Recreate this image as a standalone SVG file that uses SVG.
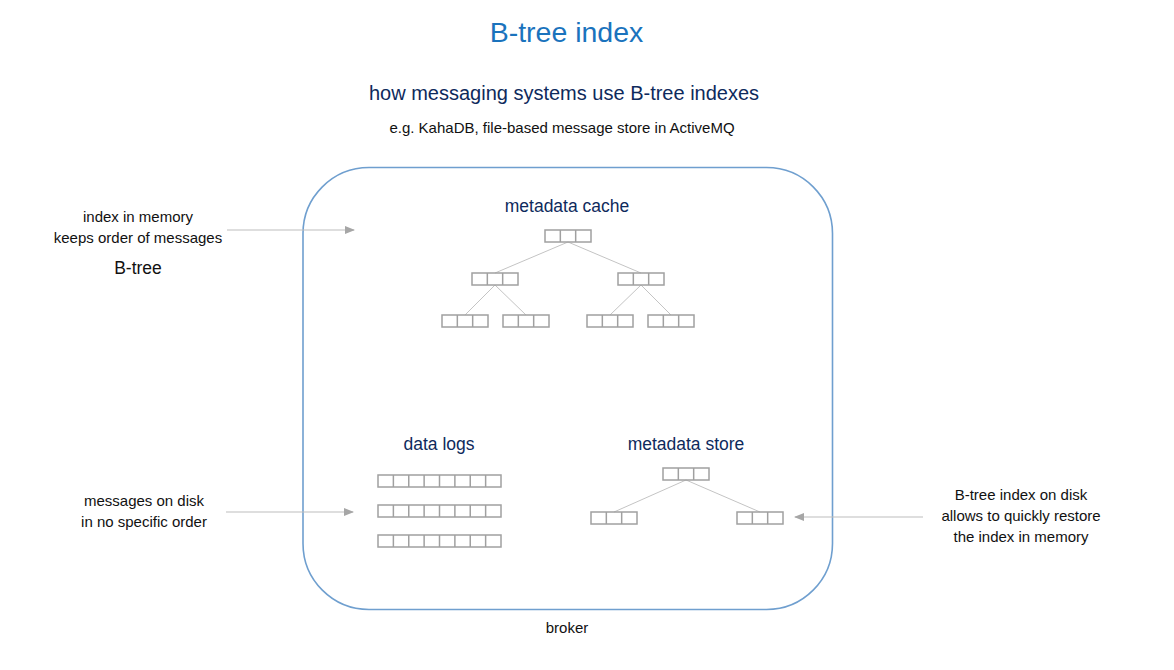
<svg xmlns="http://www.w3.org/2000/svg" width="1174" height="670" viewBox="0 0 1174 670">
<style>
text{font-family:"Liberation Sans",Arial,sans-serif;text-anchor:middle}
.title{font-size:28.5px;fill:#1a73bd}
.navy{fill:#0e2a5c}
.sub{font-size:20px}
.hd{font-size:17.5px}
.lbl{font-size:15px;fill:#111}
.cell{fill:none;stroke:#a0a0a0;stroke-width:1.5}
.edge{stroke:#c4c4c4;stroke-width:1;fill:none}
.arr{stroke:#bdbdbd;stroke-width:1.2;fill:none;marker-end:url(#ah)}
</style>
<defs>
<marker id="ah" markerWidth="10" markerHeight="8" refX="9" refY="4" orient="auto" markerUnits="userSpaceOnUse">
<path d="M0,0 L10,4 L0,8 Z" fill="#a6a6a6"/>
</marker>
<g id="n3" class="cell">
<rect x="0" y="0" width="46" height="12"/>
<line x1="15.33" y1="0" x2="15.33" y2="12"/>
<line x1="30.67" y1="0" x2="30.67" y2="12"/>
</g>
<g id="n8" class="cell">
<rect x="0" y="0" width="123" height="12"/>
<line x1="15.375" y1="0" x2="15.375" y2="12"/>
<line x1="30.75" y1="0" x2="30.75" y2="12"/>
<line x1="46.125" y1="0" x2="46.125" y2="12"/>
<line x1="61.5" y1="0" x2="61.5" y2="12"/>
<line x1="76.875" y1="0" x2="76.875" y2="12"/>
<line x1="92.25" y1="0" x2="92.25" y2="12"/>
<line x1="107.625" y1="0" x2="107.625" y2="12"/>
</g>
</defs>
<rect width="1174" height="670" fill="#fff"/>

<g id="header">
<text class="title" x="566.5" y="42">B-tree index</text>
<text class="navy sub" x="564" y="100">how messaging systems use B-tree indexes</text>
<text class="lbl" x="562" y="133">e.g. KahaDB, file-based message store in ActiveMQ</text>
</g>

<g id="broker">
<rect x="303" y="167.5" width="529.5" height="442" rx="66" ry="66" fill="none" stroke="#6f9fcf" stroke-width="1.6"/>
<text class="lbl" x="567" y="633">broker</text>
</g>

<g id="connectors">
<path class="edge" d="M568,242 L495,273 M568,242 L641,273 M495,285 L465,315 M495,285 L526,315 M641,285 L610,315 M641,285 L671,315"/>
<path class="edge" d="M686,480 L614,512 M686,480 L760,512"/>
<line class="arr" x1="227" y1="230" x2="354" y2="230"/>
<line class="arr" x1="226" y1="512" x2="353" y2="512"/>
<line class="arr" x1="923" y1="517" x2="795" y2="517"/>
</g>

<g id="metadata-cache">
<text class="navy hd" x="567" y="212">metadata cache</text>
<use href="#n3" x="545" y="230"/>
<use href="#n3" x="472" y="273"/>
<use href="#n3" x="618" y="273"/>
<use href="#n3" x="442" y="315"/>
<use href="#n3" x="503" y="315"/>
<use href="#n3" x="587" y="315"/>
<use href="#n3" x="648" y="315"/>
</g>

<g id="data-logs">
<text class="navy hd" x="439" y="450">data logs</text>
<use href="#n8" x="378" y="475"/>
<use href="#n8" x="378" y="505"/>
<use href="#n8" x="378" y="535"/>
</g>

<g id="metadata-store">
<text class="navy hd" x="686" y="450">metadata store</text>
<use href="#n3" x="663" y="468"/>
<use href="#n3" x="591" y="512"/>
<use href="#n3" x="737" y="512"/>
</g>

<g id="label-memory">
<text class="lbl" x="138" y="222">index in memory</text>
<text class="lbl" x="138" y="243">keeps order of messages</text>
<text class="lbl" x="138" y="274" style="font-size:17.5px">B-tree</text>
</g>

<g id="label-disk">
<text class="lbl" x="144" y="506">messages on disk</text>
<text class="lbl" x="144" y="527">in no specific order</text>
</g>

<g id="label-restore">
<text class="lbl" x="1021" y="500">B-tree index on disk</text>
<text class="lbl" x="1021" y="521">allows to quickly restore</text>
<text class="lbl" x="1021" y="542">the index in memory</text>
</g>
</svg>
